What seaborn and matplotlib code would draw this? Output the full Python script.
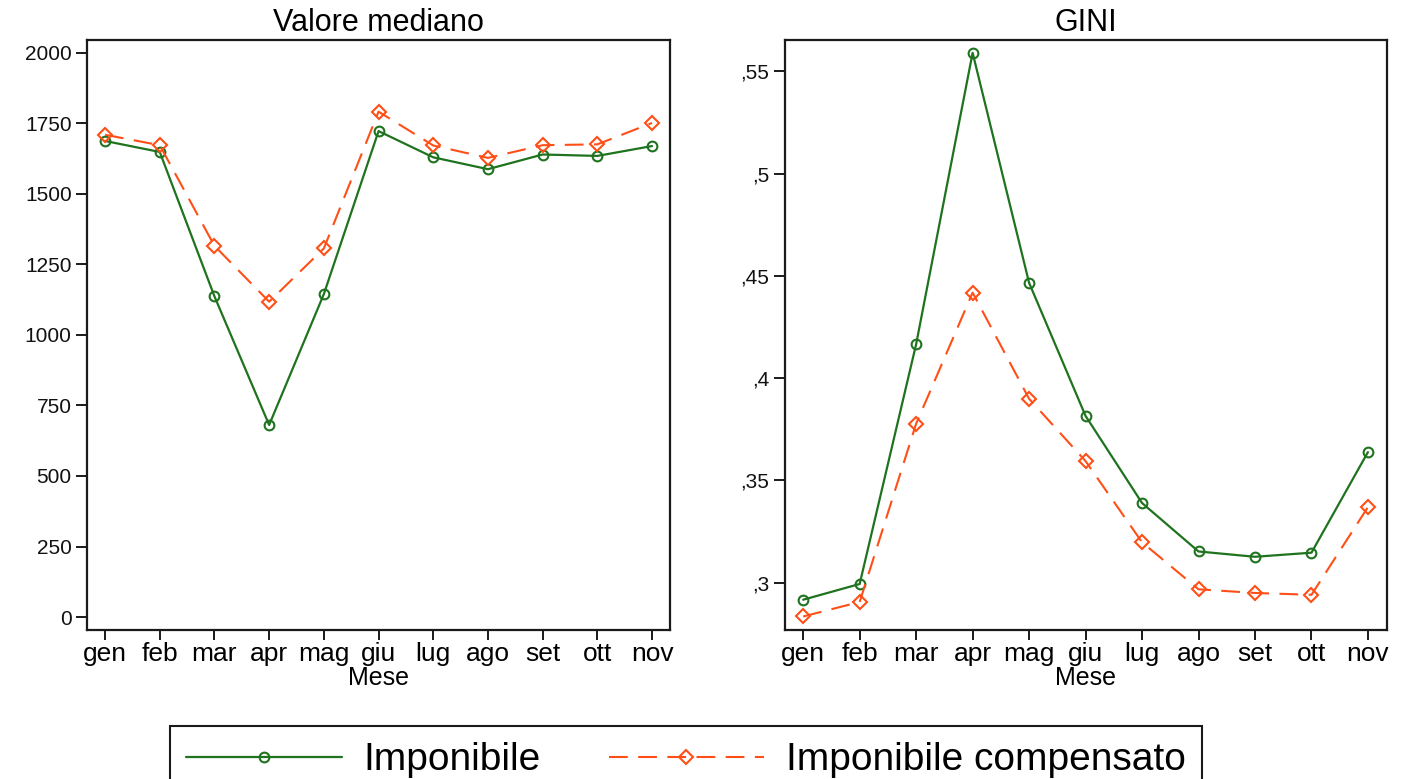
import matplotlib
matplotlib.use("Agg")
import matplotlib.pyplot as plt
import seaborn as sns
import pandas as pd

# ---- data ----
mesi = ["gen", "feb", "mar", "apr", "mag", "giu", "lug", "ago", "set", "ott", "nov"]
serie = ["Imponibile", "Imponibile compensato"]

mediano_imponibile = [1688, 1649, 1137, 681, 1145, 1723, 1630, 1588, 1640, 1635, 1670]
mediano_compensato = [1710, 1673, 1316, 1118, 1307, 1792, 1672, 1628, 1673, 1676, 1752]

gini_imponibile = [0.2916, 0.2993, 0.4166, 0.5591, 0.4466, 0.3815, 0.3389, 0.3152, 0.3126, 0.3146, 0.3638]
gini_compensato = [0.2834, 0.2905, 0.3777, 0.4418, 0.3899, 0.3594, 0.3197, 0.2967, 0.2949, 0.2940, 0.3369]

mediano_ticks = [0, 250, 500, 750, 1000, 1250, 1500, 1750, 2000]
mediano_ticklabels = ["0", "250", "500", "750", "1000", "1250", "1500", "1750", "2000"]
gini_ticks = [0.30, 0.35, 0.40, 0.45, 0.50, 0.55]
gini_ticklabels = [",3", ",35", ",4", ",45", ",5", ",55"]

titoli = ["Valore mediano", "GINI"]
xlabel = "Mese"

# ---- style ----
sns.set_theme(style="ticks")
plt.rcParams["font.family"] = ["Liberation Sans", "DejaVu Sans"]
plt.rcParams["text.color"] = "black"

GREEN = "#1f731f"
ORANGE = "#ff4f17"
FRAME = "#1a1a1a"

fig = plt.figure(figsize=(14.01, 7.79), dpi=100)
fig.patch.set_facecolor("white")

ax1 = fig.add_axes([0.0621, 0.1913, 0.4162, 0.7577])
ax2 = fig.add_axes([0.560, 0.1913, 0.4297, 0.7577])

def draw(ax, y_imp, y_comp):
    sns.lineplot(x=mesi, y=y_imp, ax=ax, sort=False, color=GREEN, linewidth=1.6,
                 marker="o", markersize=7, markerfacecolor="none",
                 markeredgecolor=GREEN, markeredgewidth=1.5, label=serie[0], legend=False)
    sns.lineplot(x=mesi, y=y_comp, ax=ax, sort=False, color=ORANGE, linewidth=1.5,
                 linestyle=(0, (9, 5)), marker="D", markersize=7.5, markerfacecolor="none",
                 markeredgecolor=ORANGE, markeredgewidth=1.5, label=serie[1], legend=False)

draw(ax1, mediano_imponibile, mediano_compensato)
draw(ax2, gini_imponibile, gini_compensato)

ax1.set_ylim(-46, 2047)
ax1.set_yticks(mediano_ticks)
ax1.set_yticklabels(mediano_ticklabels)
ax2.set_ylim(0.2768, 0.5655)
ax2.set_yticks(gini_ticks)
ax2.set_yticklabels(gini_ticklabels)

for ax, t in zip([ax1, ax2], titoli):
    ax.set_xlim(-0.33, 10.33)
    ax.set_xticks(range(len(mesi)))
    ax.set_xticklabels(mesi)
    ax.set_title(t, fontsize=22, pad=6, color="black")
    ax.set_xlabel(xlabel, fontsize=18, labelpad=0, color="black")
    ax.set_ylabel("")
    ax.grid(False)
    ax.set_facecolor("white")
    for sp in ax.spines.values():
        sp.set_visible(True)
        sp.set_color(FRAME)
        sp.set_linewidth(1.6)
    ax.tick_params(axis="x", direction="out", length=7, width=1.4, color=FRAME,
                   labelsize=19, pad=2, labelcolor="black")
    ax.tick_params(axis="y", direction="out", length=8, width=1.4, color=FRAME,
                   labelsize=15, pad=3, labelcolor="#111111")

handles = ax1.get_lines()[:2]
leg = fig.legend(handles, serie, loc="upper left", bbox_to_anchor=(170 / 1401, 1 - 726 / 779),
                 borderaxespad=0, ncol=2, fontsize=28, frameon=True, fancybox=False,
                 edgecolor=FRAME, framealpha=1, handlelength=4.0, handletextpad=0.55,
                 columnspacing=1.75, numpoints=1, borderpad=0.42, labelcolor="black")
leg.get_frame().set_linewidth(1.5)

fig.savefig("out.png", dpi=100, facecolor="white")
